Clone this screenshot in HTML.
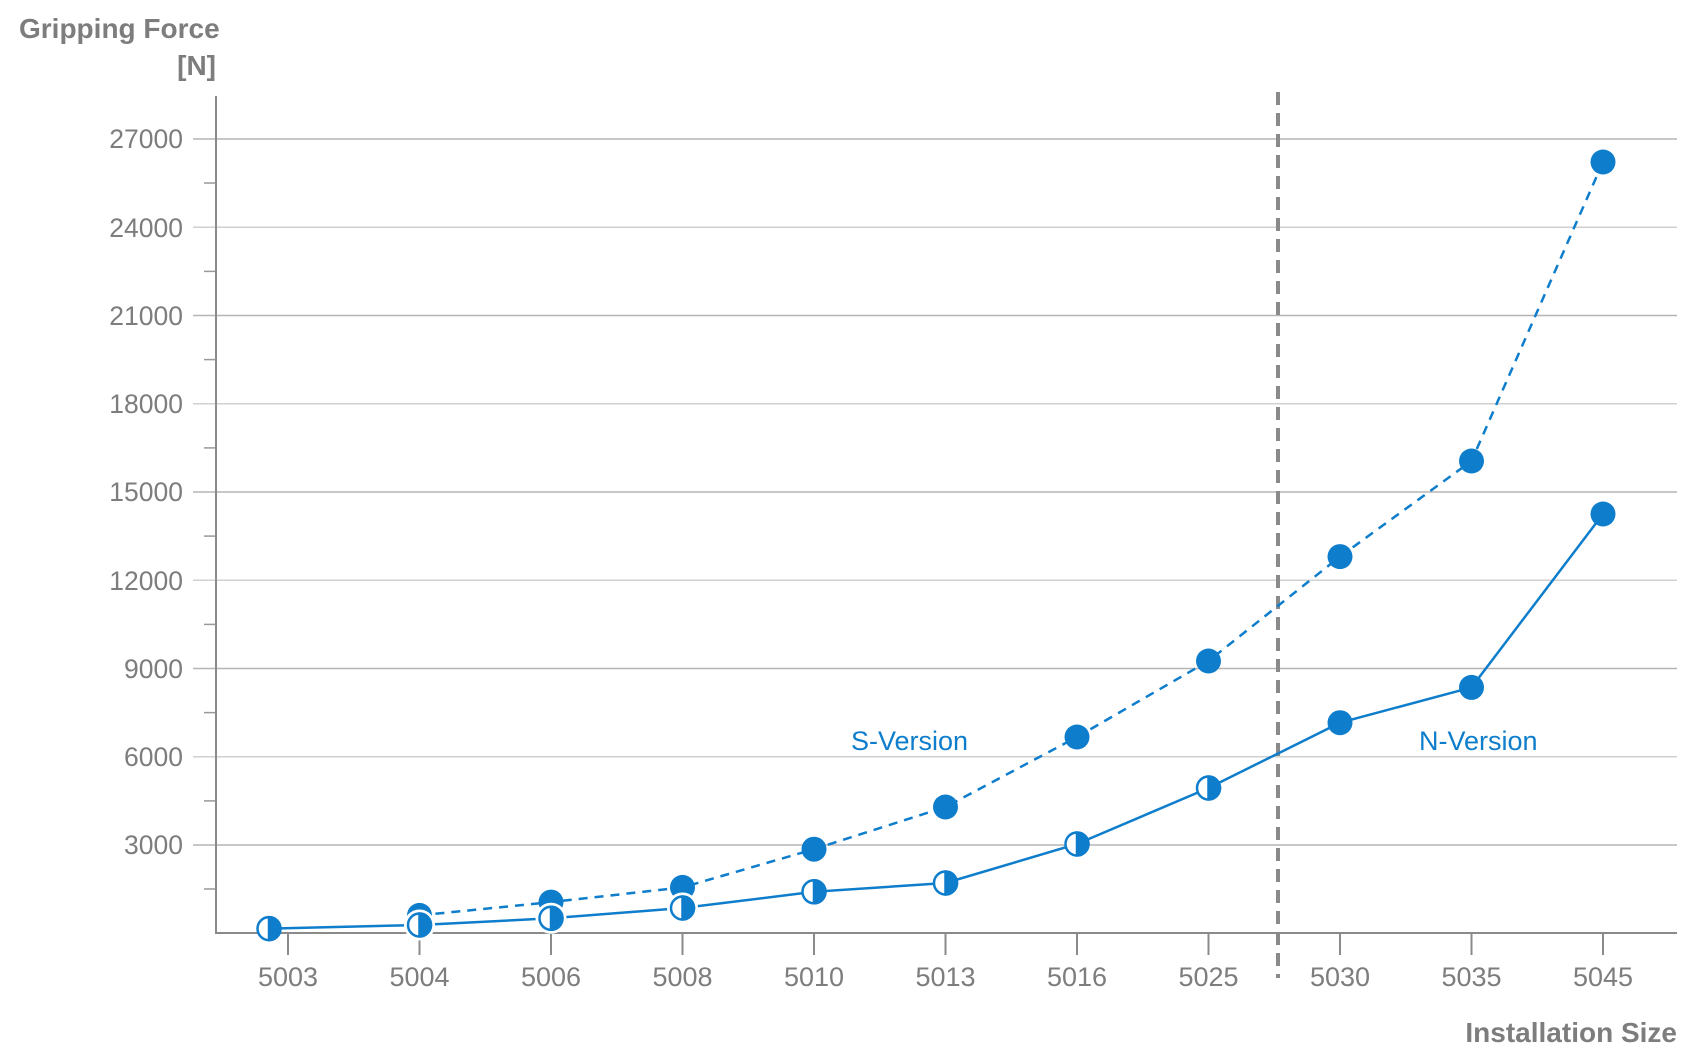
<!DOCTYPE html>
<html><head><meta charset="utf-8"><style>
html,body{margin:0;padding:0;background:#fff;}
svg{display:block;font-family:"Liberation Sans",Arial,sans-serif;}
</style></head><body>
<svg width="1700" height="1052" viewBox="0 0 1700 1052" xmlns="http://www.w3.org/2000/svg">
<g stroke="#b5b5b5" stroke-width="1.5">
<line x1="193" y1="139" x2="1677" y2="139"/>
<line x1="193" y1="227.3" x2="1677" y2="227.3" stroke="#d0d0d0"/>
<line x1="193" y1="315.5" x2="1677" y2="315.5"/>
<line x1="193" y1="403.8" x2="1677" y2="403.8" stroke="#d0d0d0"/>
<line x1="193" y1="492" x2="1677" y2="492"/>
<line x1="193" y1="580.3" x2="1677" y2="580.3" stroke="#d0d0d0"/>
<line x1="193" y1="668.5" x2="1677" y2="668.5"/>
<line x1="193" y1="756.8" x2="1677" y2="756.8" stroke="#d0d0d0"/>
<line x1="193" y1="845" x2="1677" y2="845"/>
</g>
<g stroke="#999" stroke-width="1.5">
<line x1="204" y1="183" x2="216" y2="183"/>
<line x1="204" y1="271.4" x2="216" y2="271.4"/>
<line x1="204" y1="359.6" x2="216" y2="359.6"/>
<line x1="204" y1="447.9" x2="216" y2="447.9"/>
<line x1="204" y1="536.1" x2="216" y2="536.1"/>
<line x1="204" y1="624.4" x2="216" y2="624.4"/>
<line x1="204" y1="712.6" x2="216" y2="712.6"/>
<line x1="204" y1="800.9" x2="216" y2="800.9"/>
<line x1="204" y1="889" x2="216" y2="889"/>
</g>
<g stroke="#8a8a8a" stroke-width="2">
<line x1="216" y1="96" x2="216" y2="934"/>
<line x1="215" y1="933" x2="1677" y2="933"/>
<line x1="288" y1="933" x2="288" y2="955"/>
<line x1="419.5" y1="933" x2="419.5" y2="955"/>
<line x1="551" y1="933" x2="551" y2="955"/>
<line x1="682.5" y1="933" x2="682.5" y2="955"/>
<line x1="814" y1="933" x2="814" y2="955"/>
<line x1="945.5" y1="933" x2="945.5" y2="955"/>
<line x1="1077" y1="933" x2="1077" y2="955"/>
<line x1="1208.5" y1="933" x2="1208.5" y2="955"/>
<line x1="1340" y1="933" x2="1340" y2="955"/>
<line x1="1471.5" y1="933" x2="1471.5" y2="955"/>
<line x1="1603" y1="933" x2="1603" y2="955"/>
</g>
<line x1="1278" y1="92" x2="1278" y2="978" stroke="#8a8a8a" stroke-width="4" stroke-dasharray="13,8"/>
<g fill="#7d7d7d" font-size="26.5" text-anchor="end">
<text x="183" y="148">27000</text>
<text x="183" y="237">24000</text>
<text x="183" y="325">21000</text>
<text x="183" y="413">18000</text>
<text x="183" y="501">15000</text>
<text x="183" y="590">12000</text>
<text x="183" y="678">9000</text>
<text x="183" y="766">6000</text>
<text x="183" y="854">3000</text>
</g>
<g fill="#7d7d7d" font-size="27" text-anchor="middle">
<text x="288" y="986">5003</text>
<text x="419.5" y="986">5004</text>
<text x="551" y="986">5006</text>
<text x="682.5" y="986">5008</text>
<text x="814" y="986">5010</text>
<text x="945.5" y="986">5013</text>
<text x="1077" y="986">5016</text>
<text x="1208.5" y="986">5025</text>
<text x="1340" y="986">5030</text>
<text x="1471.5" y="986">5035</text>
<text x="1603" y="986">5045</text>
</g>
<g fill="#7d7d7d" font-size="28" font-weight="bold">
<text x="19" y="38">Gripping Force</text>
<text x="216" y="75" text-anchor="end">[N]</text>
<text x="1677" y="1042" text-anchor="end">Installation Size</text>
</g>
<g fill="#0e7dcb" font-size="27">
<text x="851" y="750">S-Version</text>
<text x="1419" y="750">N-Version</text>
</g>
<polyline fill="none" stroke="#0e7dcb" stroke-width="2.5" stroke-dasharray="9,7" points="419.5,915.4 551,902.1 682.5,887.4 814,849.2 945.5,807 1077,737 1208.5,661 1340,556.6 1471.5,461 1603,162"/>
<g fill="#0e7dcb">
<circle cx="419.5" cy="915.4" r="12.5"/>
<circle cx="551" cy="902.1" r="12.5"/>
<circle cx="682.5" cy="887.4" r="12.5"/>
<circle cx="814" cy="849.2" r="12.5"/>
<circle cx="945.5" cy="807" r="12.5"/>
<circle cx="1077" cy="737" r="12.5"/>
<circle cx="1208.5" cy="661" r="12.5"/>
<circle cx="1340" cy="556.6" r="12.5"/>
<circle cx="1471.5" cy="461" r="12.5"/>
<circle cx="1603" cy="162" r="12.5"/>
</g>
<polyline fill="none" stroke="#0e7dcb" stroke-width="2.5" points="269,928.6 419.5,925 551,918.3 682.5,908 814,891.8 945.5,883 1077,844 1208.5,788 1340,722.7 1471.5,687.4 1603,514"/>
<g fill="#0e7dcb">
<circle cx="1340" cy="722.7" r="12.5"/>
<circle cx="1471.5" cy="687.4" r="12.5"/>
<circle cx="1603" cy="514" r="12.5"/>
</g>
<g stroke="#fff" stroke-width="6" fill="#fff">
<circle cx="419.5" cy="925" r="12.5"/>
<circle cx="551" cy="918.3" r="12.5"/>
<circle cx="682.5" cy="908" r="12.5"/>
</g>
<g stroke="#0e7dcb" stroke-width="2.5">
<g transform="translate(269,928.6)"><circle r="11.5" fill="#fff"/><path d="M0,-11.5 A11.5,11.5 0 0 1 0,11.5 Z" fill="#0e7dcb"/></g>
<g transform="translate(419.5,925)"><circle r="11.5" fill="#fff"/><path d="M0,-11.5 A11.5,11.5 0 0 1 0,11.5 Z" fill="#0e7dcb"/></g>
<g transform="translate(551,918.3)"><circle r="11.5" fill="#fff"/><path d="M0,-11.5 A11.5,11.5 0 0 1 0,11.5 Z" fill="#0e7dcb"/></g>
<g transform="translate(682.5,908)"><circle r="11.5" fill="#fff"/><path d="M0,-11.5 A11.5,11.5 0 0 1 0,11.5 Z" fill="#0e7dcb"/></g>
<g transform="translate(814,891.8)"><circle r="11.5" fill="#fff"/><path d="M0,-11.5 A11.5,11.5 0 0 1 0,11.5 Z" fill="#0e7dcb"/></g>
<g transform="translate(945.5,883)"><circle r="11.5" fill="#fff"/><path d="M0,-11.5 A11.5,11.5 0 0 1 0,11.5 Z" fill="#0e7dcb"/></g>
<g transform="translate(1077,844)"><circle r="11.5" fill="#fff"/><path d="M0,-11.5 A11.5,11.5 0 0 1 0,11.5 Z" fill="#0e7dcb"/></g>
<g transform="translate(1208.5,788)"><circle r="11.5" fill="#fff"/><path d="M0,-11.5 A11.5,11.5 0 0 1 0,11.5 Z" fill="#0e7dcb"/></g>
</g>
</svg>
</body></html>
